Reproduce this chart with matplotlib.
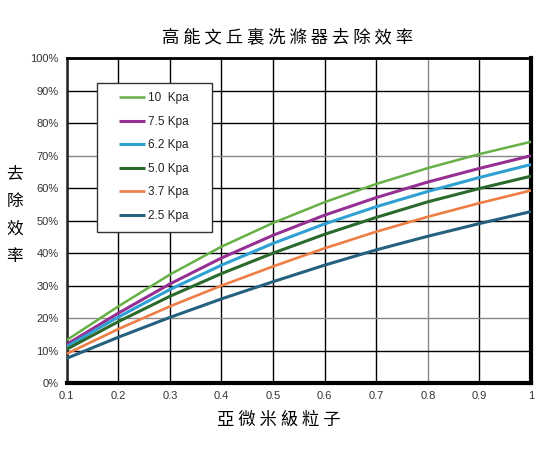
import matplotlib
matplotlib.use("Agg")
import matplotlib.pyplot as plt
from matplotlib.patches import Rectangle

# ---- data ----
x_vals = [0.1, 0.2, 0.3, 0.4, 0.5, 0.6, 0.7, 0.8, 0.9, 1.0]
series_labels = ["10  Kpa", "7.5 Kpa", "6.2 Kpa", "5.0 Kpa", "3.7 Kpa", "2.5 Kpa"]
eff_10 = [13.2, 23.6, 33.4, 42.0, 49.3, 55.7, 61.3, 66.2, 70.5, 74.3]
eff_75 = [11.9, 21.5, 30.5, 38.5, 45.5, 51.7, 57.1, 61.9, 66.1, 70.0]
eff_62 = [11.2, 20.3, 28.8, 36.3, 43.0, 49.0, 54.3, 59.0, 63.3, 67.3]
eff_50 = [10.4, 18.9, 26.7, 33.7, 40.0, 45.8, 51.0, 55.8, 59.9, 63.7]
eff_37 = [9.0, 16.6, 23.6, 30.0, 35.9, 41.5, 46.6, 51.2, 55.4, 59.3]
eff_25 = [7.6, 14.1, 20.2, 25.9, 31.2, 36.3, 41.0, 45.2, 49.1, 52.8]
series = [eff_10, eff_75, eff_62, eff_50, eff_37, eff_25]
colors = ["#66b045", "#952f93", "#2fa0d3", "#2a6a2c", "#ee7e45", "#25607f"]
widths = [1.8, 2.2, 2.2, 2.2, 1.9, 2.2]
x_ticks = [0.1, 0.2, 0.3, 0.4, 0.5, 0.6, 0.7, 0.8, 0.9, 1.0]
x_tick_labels = ["0.1", "0.2", "0.3", "0.4", "0.5", "0.6", "0.7", "0.8", "0.9", "1"]
y_ticks = [0, 10, 20, 30, 40, 50, 60, 70, 80, 90, 100]
title = "高能文丘裏洗滌器去除效率"
xlabel = "亞微米級粒子"
ylabel = "去除效率"

cjk = ["Noto Sans CJK TC", "DejaVu Sans"]
latin = ["Liberation Sans", "DejaVu Sans"]

fig = plt.figure(figsize=(5.5, 4.5), dpi=100)
ax = fig.add_axes([0.1213, 0.1489, 0.8442, 0.7215])

for ys, c, lw, lab in zip(series, colors, widths, series_labels):
    ax.plot(x_vals, ys, color=c, lw=lw, label=lab, zorder=3,
            solid_capstyle="butt", solid_joinstyle="round")

ax.set_xlim(0.1, 1.0)
ax.set_ylim(0, 100)
ax.set_xticks(x_ticks)
ax.set_xticklabels(x_tick_labels)
ax.set_yticks(y_ticks)
ax.set_yticklabels([f"{v}%" for v in y_ticks])
ax.tick_params(length=0, labelsize=8, labelcolor="#333333", pad=6)
for lab in ax.get_xticklabels() + ax.get_yticklabels():
    lab.set_family(latin)

ax.grid(True, color="black", lw=1.0, zorder=1)
for i, gl in enumerate(ax.get_xgridlines()):
    if x_ticks[i] == 0.8:
        gl.set_color("#888888")
for i, gl in enumerate(ax.get_ygridlines()):
    if y_ticks[i] in (20, 70):
        gl.set_color("#888888")

ax.spines["top"].set_linewidth(2.0)
ax.spines["left"].set_linewidth(1.8)
ax.spines["left"].set_color("#222222")
ax.spines["bottom"].set_linewidth(3.0)
ax.spines["right"].set_linewidth(3.0)

# legend box
box = Rectangle((0.065, 0.465), 0.248, 0.459, transform=ax.transAxes,
                facecolor="white", edgecolor="#333333", lw=1.0, zorder=4)
ax.add_patch(box)
leg = ax.legend(loc="center left", bbox_to_anchor=(0.1126, 0.696), frameon=False,
                prop={"family": latin, "size": 8.5}, handlelength=2.2,
                handletextpad=0.25, labelspacing=0.98, borderpad=0,
                borderaxespad=0)
for t in leg.get_texts():
    t.set_color("#222222")
leg.set_zorder(5)

fig.text(0.522, 0.918, " ".join(title), family=cjk, fontsize=12.5,
         ha="center", va="center", color="black")
fig.text(0.507, 0.067, " ".join(xlabel), family=cjk, fontsize=12.5,
         ha="center", va="center", color="black")
fig.text(0.027, 0.522, "\n".join(ylabel), family=cjk, fontsize=12,
         ha="center", va="center", color="black", linespacing=1.8)

fig.savefig("out.png", dpi=100)
